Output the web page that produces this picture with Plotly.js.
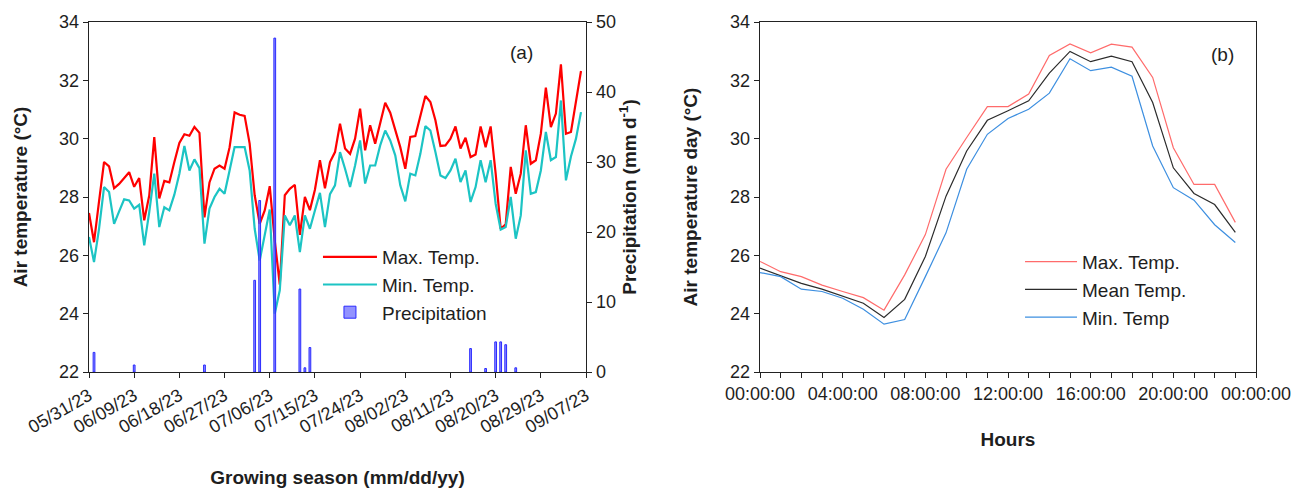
<!DOCTYPE html>
<html>
<head>
<meta charset="utf-8">
<script src="https://cdn.plot.ly/plotly-3.0.1.min.js"></script>
<style>
  html, body { margin: 0; padding: 0; background: #fff; }
  #chart { width: 1301px; height: 488px; }
</style>
</head>
<body>
<div id="chart"></div>
<script>
// Panel (a): daily air temperature and precipitation over the 2023 growing season
const seasonStart = [2023, 4, 31]; // 05/31/23 (month is zero-based)

const maxTemp = [
  27.45, 26.45, 27.85, 29.2, 29.05, 28.3, 28.45, 28.65, 28.85, 28.35,
  28.65, 27.2, 28.05, 30.05, 27.95, 28.55, 28.5, 29.2, 29.85, 30.15,
  30.1, 30.4, 30.2, 27.3, 28.5, 28.97, 29.08, 28.97, 29.7, 30.9,
  30.82, 30.78, 29.83, 28.06, 27.08, 27.54, 28.37, 26.5, 25.0, 28.06,
  28.28, 28.42, 26.7, 28.0, 27.55, 28.25, 29.26, 28.3, 29.2, 29.54,
  30.51, 29.66, 29.48, 30.0, 31.03, 29.6, 30.46, 29.83, 30.54, 31.23,
  30.89, 30.32, 29.71, 28.97, 30.06, 30.09, 30.74, 31.46, 31.26, 30.63,
  29.75, 29.77, 30.0, 30.42, 29.66, 30.03, 29.37, 29.46, 30.42, 29.71,
  30.42, 28.8, 26.91, 27.06, 29.03, 28.11, 28.8, 30.46, 29.14, 29.26,
  30.17, 31.75, 30.4, 30.86, 32.55, 30.17, 30.23, 31.31, 32.32
];

const minTemp = [
  26.63, 25.77, 26.91, 28.34, 28.17, 27.08, 27.51, 27.92, 27.88, 27.6,
  27.73, 26.34, 27.48, 28.8, 26.97, 27.65, 27.54, 28.08, 28.8, 29.75,
  28.91, 29.29, 28.99, 26.4, 27.6, 28.0, 28.28, 28.11, 28.91, 29.71,
  29.71, 29.71, 28.91, 26.91, 25.82, 26.74, 27.57, 24.0, 24.8, 27.37,
  27.03, 27.37, 26.11, 27.37, 26.91, 27.54, 28.14, 26.97, 28.1, 28.4,
  29.54, 28.97, 28.34, 29.08, 29.94, 28.46, 29.08, 29.08, 29.77, 30.28,
  29.94, 29.43, 28.4, 27.85, 28.8, 28.74, 29.48, 30.43, 30.28, 29.54,
  28.74, 28.65, 28.91, 29.31, 28.51, 28.91, 27.83, 28.34, 29.26, 28.51,
  29.26, 27.77, 26.88, 26.97, 28.0, 26.57, 27.37, 29.6, 28.11, 28.17,
  28.91, 30.23, 29.26, 29.37, 31.31, 28.57, 29.39, 30.0, 30.91
];

const rainDates = [
  '2023-06-01', '2023-06-09', '2023-06-23', '2023-07-03', '2023-07-04',
  '2023-07-07', '2023-07-12', '2023-07-13', '2023-07-14', '2023-08-15',
  '2023-08-18', '2023-08-20', '2023-08-21', '2023-08-22', '2023-08-24'
];
const rainMm = [2.8, 1.0, 1.0, 13.1, 24.5, 47.7, 11.85, 0.6, 3.5, 3.35, 0.5, 4.3, 4.3, 3.9, 0.6];

// Panel (b): mean diurnal course of air temperature
const hours = [0, 1, 2, 3, 4, 5, 6, 7, 8, 9, 10, 11, 12, 13, 14, 15, 16, 17, 18, 19, 20, 21, 22, 23];
const hourMax = [25.79, 25.44, 25.27, 24.98, 24.76, 24.55, 24.12, 25.33, 26.71, 28.95, 30.04, 31.1,
                 31.1, 31.53, 32.85, 33.25, 32.94, 33.24, 33.14, 32.1, 29.69, 28.43, 28.43, 27.13];
const hourMean = [25.56, 25.3, 25.04, 24.84, 24.61, 24.36, 23.87, 24.49, 25.96, 28.03, 29.58, 30.63,
                  30.96, 31.3, 32.25, 32.99, 32.64, 32.83, 32.64, 31.24, 29.0, 28.12, 27.74, 26.79];
const hourMin = [25.41, 25.27, 24.84, 24.76, 24.53, 24.15, 23.64, 23.8, 25.27, 26.77, 28.95, 30.15,
                 30.69, 31.01, 31.56, 32.74, 32.33, 32.45, 32.14, 29.75, 28.32, 27.89, 27.05, 26.44];

const hourLabelVals = [0, 4, 8, 12, 16, 20, 24];
const hourLabelText = ['00:00:00', '04:00:00', '08:00:00', '12:00:00', '16:00:00', '20:00:00', '00:00:00'];

// daily date strings for the season
const days = maxTemp.map((_, i) => {
  const d = new Date(Date.UTC(seasonStart[0], seasonStart[1], seasonStart[2] + i));
  return d.toISOString().slice(0, 10);
});

const DAY_MS = 86400000;
const FONT = 'Liberation Sans, Arial, sans-serif';
const INK = '#1e1e1e';

const traces = [
  {
    x: days, y: maxTemp, type: 'scatter', mode: 'lines', name: 'Max. Temp.',
    xaxis: 'x', yaxis: 'y', legend: 'legend',
    line: { color: '#ff0000', width: 2.2 }
  },
  {
    x: days, y: minTemp, type: 'scatter', mode: 'lines', name: 'Min. Temp.',
    xaxis: 'x', yaxis: 'y', legend: 'legend',
    line: { color: '#1cc4c4', width: 2.2 }
  },
  {
    x: rainDates, y: rainMm, type: 'bar', name: 'Precipitation',
    xaxis: 'x', yaxis: 'y2', legend: 'legend',
    width: 0.35 * DAY_MS,
    marker: { color: 'rgba(110,110,255,0.75)', line: { color: '#2a2aff', width: 1 } }
  },
  {
    x: hours, y: hourMax, type: 'scatter', mode: 'lines', name: 'Max. Temp.',
    xaxis: 'x2', yaxis: 'y3', legend: 'legend2',
    line: { color: '#ff6b6b', width: 1.2 }
  },
  {
    x: hours, y: hourMean, type: 'scatter', mode: 'lines', name: 'Mean Temp.',
    xaxis: 'x2', yaxis: 'y3', legend: 'legend2',
    line: { color: '#2b2b2b', width: 1.2 }
  },
  {
    x: hours, y: hourMin, type: 'scatter', mode: 'lines', name: 'Min. Temp',
    xaxis: 'x2', yaxis: 'y3', legend: 'legend2',
    line: { color: '#3d8fe0', width: 1.2 }
  }
];

const axisBase = {
  showgrid: false, zeroline: false,
  showline: true, linecolor: '#222', linewidth: 1.3,
  ticks: 'outside', ticklen: 5, tickcolor: '#222', tickwidth: 1,
  tickfont: { family: FONT, size: 18, color: INK }
};
const titleFont = { family: FONT, size: 19, color: INK, weight: 'bold' };

const layout = {
  width: 1301, height: 488,
  margin: { l: 89, r: 45, t: 22, b: 116 },
  paper_bgcolor: '#fff', plot_bgcolor: '#fff',
  showlegend: true,
  bargap: 0,
  xaxis: Object.assign({}, axisBase, {
    domain: [0, 0.4259], anchor: 'y', type: 'date',
    range: ['2023-05-31', '2023-09-07'],
    tick0: '2023-05-31', dtick: 9 * DAY_MS, tickformat: '%m/%d/%y',
    tickangle: -30, mirror: true,
    title: { text: 'Growing season (mm/dd/yy)', font: titleFont, standoff: 40 }
  }),
  yaxis: Object.assign({}, axisBase, {
    domain: [0, 1], anchor: 'x', range: [22, 34], dtick: 2,
    title: { text: 'Air temperature (°C)', font: titleFont, standoff: 26 }
  }),
  yaxis2: Object.assign({}, axisBase, {
    overlaying: 'y', side: 'right', anchor: 'x', range: [0, 50], dtick: 10,
    title: { text: 'Precipitation (mm d<sup>-1</sup>)', font: titleFont, standoff: 0 }
  }),
  xaxis2: Object.assign({}, axisBase, {
    domain: [0.575, 1], anchor: 'y3', range: [0, 24],
    tickmode: 'array', tickvals: hourLabelVals, ticktext: hourLabelText,
    minor: { tickmode: 'linear', tick0: 0, dtick: 1, ticks: 'outside', ticklen: 5,
             tickcolor: '#222', tickwidth: 1, showgrid: false },
    mirror: true,
    title: { text: 'Hours', font: titleFont, standoff: 29 }
  }),
  yaxis3: Object.assign({}, axisBase, {
    domain: [0, 1], anchor: 'x2', range: [22, 34], dtick: 2, mirror: true,
    title: { text: 'Air temperature day (°C)', font: titleFont, standoff: 27 }
  }),
  legend: {
    x: 0.1962, y: 0.383, xanchor: 'left', yanchor: 'top',
    bgcolor: 'rgba(0,0,0,0)', borderwidth: 0,
    font: { family: FONT, size: 19, color: INK },
    itemwidth: 54, tracegroupgap: 0
  },
  legend2: {
    x: 0.7978, y: 0.369, xanchor: 'left', yanchor: 'top',
    bgcolor: 'rgba(0,0,0,0)', borderwidth: 0,
    font: { family: FONT, size: 19, color: INK },
    itemwidth: 52, tracegroupgap: 0
  },
  annotations: [
    { text: '(a)', xref: 'paper', yref: 'paper', x: 0.371, y: 0.914,
      xanchor: 'center', yanchor: 'middle', showarrow: false,
      font: { family: FONT, size: 19, color: INK } },
    { text: '(b)', xref: 'paper', yref: 'paper', x: 0.9709, y: 0.906,
      xanchor: 'center', yanchor: 'middle', showarrow: false,
      font: { family: FONT, size: 19, color: INK } }
  ]
};

Plotly.newPlot('chart', traces, layout, { staticPlot: true, displayModeBar: false });
</script>
</body>
</html>
